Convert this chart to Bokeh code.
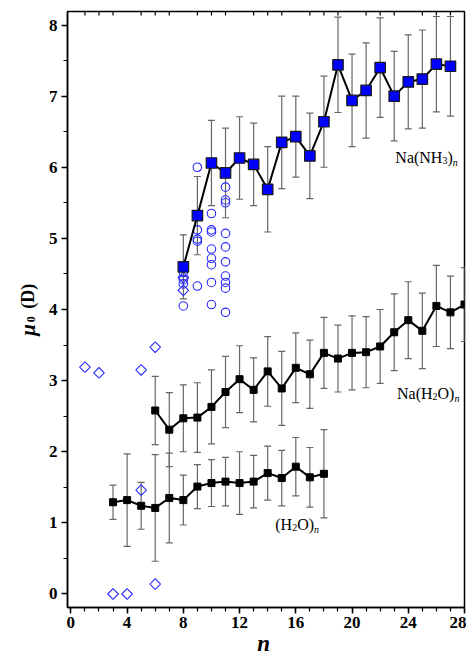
import math
from bokeh.plotting import figure
from bokeh.models import (Range1d, FixedTicker, Whisker, TeeHead,
                          ColumnDataSource, Label)
from bokeh.embed import file_html
from bokeh.resources import INLINE

# ---------------- data ----------------
n_nh3 = list(range(8, 28))
mu_nh3 = [4.60, 5.32, 6.06, 5.92, 6.13, 6.04, 5.69, 6.35, 6.43, 6.16,
          6.64, 7.44, 6.94, 7.08, 7.40, 7.00, 7.20, 7.24, 7.45, 7.42]
err_nh3 = [0.45, 0.55, 0.60, 0.63, 0.58, 0.58, 0.60, 0.65, 0.57, 0.60,
           0.64, 0.67, 0.65, 0.67, 0.70, 0.63, 0.66, 0.69, 0.67, 0.70]

n_naw = list(range(6, 29))
mu_naw = [2.58, 2.31, 2.47, 2.48, 2.63, 2.84, 3.02, 2.87, 3.13, 2.89, 3.18, 3.09,
          3.39, 3.31, 3.39, 3.40, 3.48, 3.68, 3.85, 3.70, 4.05, 3.96, 4.07]
err_naw = [0.48, 0.52, 0.47, 0.49, 0.52, 0.50, 0.47, 0.45, 0.49, 0.52, 0.49, 0.48,
           0.50, 0.47, 0.52, 0.50, 0.52, 0.54, 0.54, 0.53, 0.57, 0.51, 0.52]

n_w = list(range(3, 19))
mu_w = [1.29, 1.32, 1.24, 1.21, 1.35, 1.32, 1.51, 1.56, 1.58, 1.56, 1.58, 1.70,
        1.63, 1.79, 1.64, 1.69]
err_w = [0.24, 0.65, 0.33, 0.75, 0.63, 0.35, 0.31, 0.33, 0.34, 0.44, 0.37, 0.38,
         0.39, 0.41, 0.42, 0.62]

circ_n = [8, 8, 8, 8,
          9, 9, 9, 9, 9,
          10, 10, 10, 10, 10, 10, 10, 10,
          11, 11, 11, 11, 11, 11, 11, 11, 11, 11]
circ_mu = [4.52, 4.42, 4.36, 4.05,
           6.00, 5.12, 4.99, 4.96, 4.33,
           5.35, 5.12, 5.09, 4.85, 4.72, 4.63, 4.38, 4.07,
           5.72, 5.54, 5.50, 5.07, 4.88, 4.67, 4.47, 4.38, 4.30, 3.96]

dia_n = [1, 2, 3, 4, 5, 5, 6, 6, 8, 8]
dia_mu = [3.19, 3.11, 0.00, 0.00, 3.15, 1.46, 3.47, 0.14, 4.45, 4.27]

x_major = [0, 4, 8, 12, 16, 20, 24, 28]
x_minor = list(range(0, 29))
x_top = [i for i in range(1, 28) if i % 4 != 0]
y_major = [0, 1, 2, 3, 4, 5, 6, 7, 8]
y_minor = [i * 0.5 for i in range(0, 17)]

XMIN, XMAX = -0.24, 28.0
YMIN, YMAX = -0.19, 8.19

# ---------------- figure ----------------
FONT = "Liberation Serif"
p = figure(width=466, height=656, x_range=Range1d(XMIN, XMAX), y_range=Range1d(YMIN, YMAX),
           output_backend="svg", toolbar_location=None,
           min_border_left=67, min_border_right=2, min_border_top=11, min_border_bottom=49)
p.xgrid.visible = False
p.ygrid.visible = False
p.outline_line_color = "black"
p.outline_line_width = 1.5
p.background_fill_color = "white"
p.border_fill_color = "white"

xa = p.xaxis[0]
xa.ticker = FixedTicker(ticks=x_major, minor_ticks=x_minor)
ya = p.yaxis[0]
ya.ticker = FixedTicker(ticks=y_major, minor_ticks=y_minor)
for ax in (xa, ya):
    ax.axis_line_color = "black"
    ax.axis_line_width = 1.5
    ax.major_tick_line_color = "black"
    ax.major_tick_line_width = 1.5
    ax.minor_tick_line_color = "black"
    ax.minor_tick_line_width = 1.2
    ax.major_tick_in = 0
    ax.major_tick_out = 6
    ax.minor_tick_in = 0
    ax.minor_tick_out = 4
    ax.major_label_text_font = FONT
    ax.major_label_text_font_style = "bold"
    ax.major_label_text_font_size = "17px"
    ax.major_label_text_color = "black"
xa.major_label_standoff = 3
ya.major_label_standoff = 4

# inward minor ticks along the top edge
TICK_IN = 4 / 71.1
p.segment(x0=x_top, y0=[YMAX] * len(x_top), x1=x_top, y1=[YMAX - TICK_IN] * len(x_top),
          line_color="black", line_width=1.2)

# ---------------- error bars ----------------
def add_err(xs, ys, es, color="#666666"):
    src = ColumnDataSource(dict(x=xs, lo=[y - e for y, e in zip(ys, es)],
                                hi=[y + e for y, e in zip(ys, es)]))
    w = Whisker(source=src, base="x", upper="hi", lower="lo", level="underlay",
                line_color=color, line_width=1.2,
                upper_head=TeeHead(size=7, line_color=color, line_width=1.2),
                lower_head=TeeHead(size=7, line_color=color, line_width=1.2))
    p.add_layout(w)

add_err(n_nh3, mu_nh3, err_nh3)
add_err(n_naw, mu_naw, err_naw)
add_err(n_w, mu_w, err_w)

# ---------------- open symbols ----------------
BLUE = "#2b2bff"
p.scatter(circ_n, circ_mu, marker="circle", size=8.5, fill_color=None,
          line_color=BLUE, line_width=1.1)
p.scatter(dia_n, dia_mu, marker="square", angle=math.pi / 4, size=7.5, fill_color=None,
          line_color=BLUE, line_width=1.1)

# ---------------- series ----------------
p.line(n_w, mu_w, line_color="black", line_width=2)
p.scatter(n_w, mu_w, marker="square", size=7, fill_color="black", line_color="black")
p.line(n_naw, mu_naw, line_color="black", line_width=2)
p.scatter(n_naw, mu_naw, marker="square", size=7, fill_color="black", line_color="black")
p.line(n_nh3, mu_nh3, line_color="black", line_width=2)
p.scatter(n_nh3, mu_nh3, marker="square", size=10.5, fill_color="#0000ff",
          line_color="#1a1a1a", line_width=1.2)

# ---------------- text ----------------
W = {"N": .722, "a": .444, "(": .333, ")": .333, "H": .722, "O": .722, "n": .5,
     "2": .5, "3": .5}

def place(x, y, pieces):
    off = 0.0
    for txt, size, style, dy in pieces:
        p.add_layout(Label(x=x, y=y, x_offset=off, y_offset=dy, text=txt,
                           text_font=FONT, text_font_size=f"{size}px",
                           text_font_style=style, text_color="black",
                           text_baseline="alphabetic", text_align="left"))
        off += sum(W.get(c, .5) for c in txt) * size

place(23.08, 6.14, [("Na(NH", 16, "normal", 0), ("3", 10, "normal", -3),
                    (")", 16, "normal", 0), ("n", 10, "italic", -5)])
place(23.2, 2.82, [("Na(H", 16, "normal", 0), ("2", 10, "normal", -3),
                   ("O)", 16, "normal", 0), ("n", 10, "italic", -5)])
place(14.54, 0.98, [("(H", 16, "normal", 0), ("2", 10, "normal", -3),
                    ("O)", 16, "normal", 0), ("n", 10, "italic", -5)])

# axis titles, placed in side panels (positioned by data coordinates, not clipped)
p.add_layout(Label(x=13.72, y=-0.70, text="n", text_font=FONT, text_font_size="23px",
                   text_font_style="bold italic", text_color="black",
                   text_align="center", text_baseline="alphabetic"), "below")
p.add_layout(Label(x=-3.04, y=3.63, text="μ", angle=math.pi / 2, text_font=FONT,
                   text_font_size="21px", text_font_style="bold italic", text_color="black",
                   text_align="left", text_baseline="alphabetic"), "left")
p.add_layout(Label(x=-2.84, y=3.82, text="0", angle=math.pi / 2, text_font=FONT,
                   text_font_size="12px", text_font_style="bold", text_color="black",
                   text_align="left", text_baseline="alphabetic"), "above")
p.add_layout(Label(x=-3.04, y=4.01, text="(D)", angle=math.pi / 2, text_font=FONT,
                   text_font_size="18px", text_font_style="bold", text_color="black",
                   text_align="left", text_baseline="alphabetic"), "left")

open("out.html", "w").write(file_html(p, INLINE))
